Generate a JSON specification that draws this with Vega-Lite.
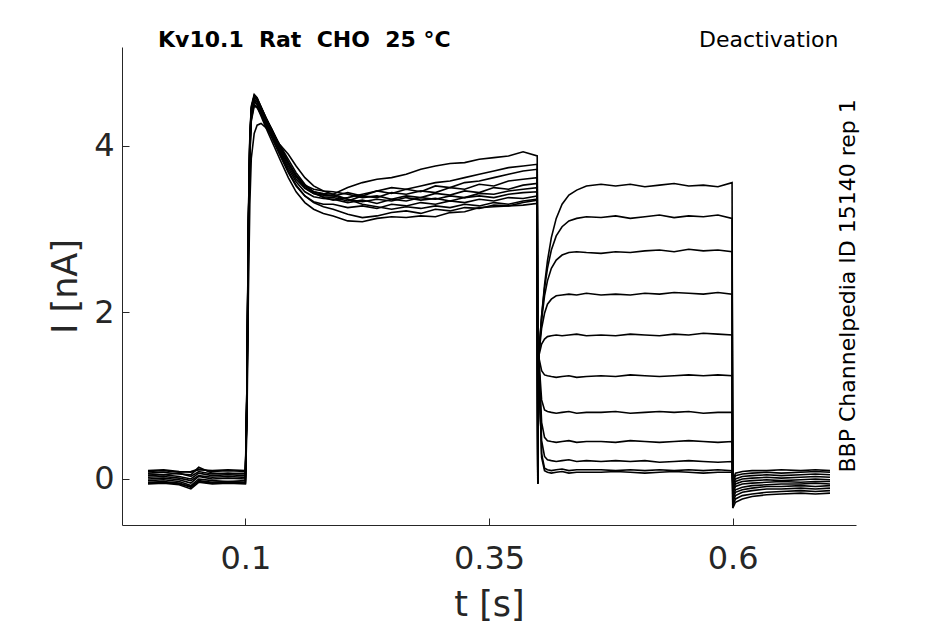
{
"$schema":"https://vega.github.io/schema/vega-lite/v6.json",
"width":734,"height":478,
"autosize":{"type":"none"},
"padding":{"left":122,"top":47,"right":89,"bottom":99},
"background":"white",
"config":{"view":{"stroke":null},"font":"DejaVu Sans"},
"data":{"values":[
{"k":1,"t":0,"v":0.02},{"k":1,"t":0.016,"v":0.03},{"k":1,"t":0.032,"v":0.01},{"k":1,"t":0.044,"v":-0.02},{"k":1,"t":0.052,"v":0.04},{"k":1,"t":0.066,"v":0.02},{"k":1,"t":0.082,"v":0.03},{"k":1,"t":0.1,"v":0.02},
{"k":1,"t":0.1015,"v":0.9},{"k":1,"t":0.103,"v":2.9},{"k":1,"t":0.1045,"v":4.0},{"k":1,"t":0.106,"v":4.4},{"k":1,"t":0.109,"v":4.55},{"k":1,"t":0.112,"v":4.5},{"k":1,"t":0.116,"v":4.4},{"k":1,"t":0.121,"v":4.25},{"k":1,"t":0.127,"v":4.1},{"k":1,"t":0.135,"v":3.9},{"k":1,"t":0.144,"v":3.68},{"k":1,"t":0.152,"v":3.52},{"k":1,"t":0.161,"v":3.4},{"k":1,"t":0.17,"v":3.32},{"k":1,"t":0.18,"v":3.27},
{"k":1,"t":0.19,"v":3.24},{"k":1,"t":0.205,"v":3.18},{"k":1,"t":0.22,"v":3.14},{"k":1,"t":0.235,"v":3.16},{"k":1,"t":0.25,"v":3.2},{"k":1,"t":0.265,"v":3.22},{"k":1,"t":0.28,"v":3.19},{"k":1,"t":0.295,"v":3.24},{"k":1,"t":0.31,"v":3.22},{"k":1,"t":0.325,"v":3.26},{"k":1,"t":0.34,"v":3.25},{"k":1,"t":0.355,"v":3.29},{"k":1,"t":0.37,"v":3.28},{"k":1,"t":0.385,"v":3.32},{"k":1,"t":0.3995,"v":3.35},
{"k":1,"t":0.4001,"v":-0.06},{"k":1,"t":0.401,"v":1.47},{"k":1,"t":0.404,"v":1.96},{"k":1,"t":0.407,"v":2.33},{"k":1,"t":0.41,"v":2.62},{"k":1,"t":0.414,"v":2.9},{"k":1,"t":0.419,"v":3.13},{"k":1,"t":0.425,"v":3.3},{"k":1,"t":0.432,"v":3.41},{"k":1,"t":0.44,"v":3.47},{"k":1,"t":0.45,"v":3.52},
{"k":1,"t":0.465,"v":3.54},{"k":1,"t":0.48,"v":3.52},{"k":1,"t":0.495,"v":3.54},{"k":1,"t":0.51,"v":3.51},{"k":1,"t":0.525,"v":3.53},{"k":1,"t":0.54,"v":3.55},{"k":1,"t":0.555,"v":3.52},{"k":1,"t":0.57,"v":3.53},{"k":1,"t":0.585,"v":3.51},{"k":1,"t":0.5995,"v":3.56},
{"k":1,"t":0.6002,"v":-0.35},{"k":1,"t":0.603,"v":-0.28},{"k":1,"t":0.61,"v":-0.24},{"k":1,"t":0.62,"v":-0.21},{"k":1,"t":0.635,"v":-0.19},{"k":1,"t":0.65,"v":-0.18},{"k":1,"t":0.67,"v":-0.17},{"k":1,"t":0.685,"v":-0.18},{"k":1,"t":0.7,"v":-0.17},
{"k":2,"t":0,"v":0.09},{"k":2,"t":0.016,"v":0.1},{"k":2,"t":0.032,"v":0.08},{"k":2,"t":0.044,"v":0.09},{"k":2,"t":0.052,"v":0.12},{"k":2,"t":0.066,"v":0.09},{"k":2,"t":0.082,"v":0.1},{"k":2,"t":0.1,"v":0.09},
{"k":2,"t":0.1015,"v":1.1},{"k":2,"t":0.103,"v":3.1},{"k":2,"t":0.1045,"v":4.1},{"k":2,"t":0.106,"v":4.48},{"k":2,"t":0.109,"v":4.62},{"k":2,"t":0.112,"v":4.58},{"k":2,"t":0.116,"v":4.47},{"k":2,"t":0.121,"v":4.34},{"k":2,"t":0.127,"v":4.2},{"k":2,"t":0.135,"v":4.0},{"k":2,"t":0.144,"v":3.8},{"k":2,"t":0.152,"v":3.65},{"k":2,"t":0.161,"v":3.52},{"k":2,"t":0.17,"v":3.45},{"k":2,"t":0.18,"v":3.43},
{"k":2,"t":0.19,"v":3.42},{"k":2,"t":0.205,"v":3.5},{"k":2,"t":0.22,"v":3.56},{"k":2,"t":0.235,"v":3.6},{"k":2,"t":0.25,"v":3.62},{"k":2,"t":0.265,"v":3.66},{"k":2,"t":0.28,"v":3.72},{"k":2,"t":0.295,"v":3.76},{"k":2,"t":0.31,"v":3.79},{"k":2,"t":0.325,"v":3.8},{"k":2,"t":0.34,"v":3.84},{"k":2,"t":0.355,"v":3.86},{"k":2,"t":0.37,"v":3.88},{"k":2,"t":0.385,"v":3.93},{"k":2,"t":0.3995,"v":3.88},
{"k":2,"t":0.4001,"v":-0.05},{"k":2,"t":0.401,"v":1.47},{"k":2,"t":0.404,"v":1.95},{"k":2,"t":0.407,"v":2.29},{"k":2,"t":0.41,"v":2.53},{"k":2,"t":0.414,"v":2.75},{"k":2,"t":0.419,"v":2.92},{"k":2,"t":0.425,"v":3.03},{"k":2,"t":0.432,"v":3.1},{"k":2,"t":0.44,"v":3.13},{"k":2,"t":0.45,"v":3.15},
{"k":2,"t":0.465,"v":3.14},{"k":2,"t":0.48,"v":3.16},{"k":2,"t":0.495,"v":3.13},{"k":2,"t":0.51,"v":3.15},{"k":2,"t":0.525,"v":3.17},{"k":2,"t":0.54,"v":3.14},{"k":2,"t":0.555,"v":3.16},{"k":2,"t":0.57,"v":3.15},{"k":2,"t":0.585,"v":3.17},{"k":2,"t":0.5995,"v":3.13},
{"k":2,"t":0.6002,"v":-0.32},{"k":2,"t":0.603,"v":-0.24},{"k":2,"t":0.61,"v":-0.2},{"k":2,"t":0.62,"v":-0.18},{"k":2,"t":0.635,"v":-0.16},{"k":2,"t":0.65,"v":-0.15},{"k":2,"t":0.67,"v":-0.14},{"k":2,"t":0.685,"v":-0.15},{"k":2,"t":0.7,"v":-0.14},
{"k":3,"t":0,"v":-0.04},{"k":3,"t":0.016,"v":-0.03},{"k":3,"t":0.032,"v":-0.05},{"k":3,"t":0.044,"v":-0.1},{"k":3,"t":0.052,"v":-0.02},{"k":3,"t":0.066,"v":-0.04},{"k":3,"t":0.082,"v":-0.03},{"k":3,"t":0.1,"v":-0.04},
{"k":3,"t":0.1015,"v":1.0},{"k":3,"t":0.103,"v":3.0},{"k":3,"t":0.1045,"v":4.05},{"k":3,"t":0.106,"v":4.45},{"k":3,"t":0.109,"v":4.6},{"k":3,"t":0.112,"v":4.56},{"k":3,"t":0.116,"v":4.46},{"k":3,"t":0.121,"v":4.33},{"k":3,"t":0.127,"v":4.19},{"k":3,"t":0.135,"v":3.99},{"k":3,"t":0.144,"v":3.79},{"k":3,"t":0.152,"v":3.64},{"k":3,"t":0.161,"v":3.53},{"k":3,"t":0.17,"v":3.48},{"k":3,"t":0.18,"v":3.46},
{"k":3,"t":0.19,"v":3.45},{"k":3,"t":0.205,"v":3.42},{"k":3,"t":0.22,"v":3.38},{"k":3,"t":0.235,"v":3.4},{"k":3,"t":0.25,"v":3.36},{"k":3,"t":0.265,"v":3.4},{"k":3,"t":0.28,"v":3.38},{"k":3,"t":0.295,"v":3.43},{"k":3,"t":0.31,"v":3.41},{"k":3,"t":0.325,"v":3.46},{"k":3,"t":0.34,"v":3.44},{"k":3,"t":0.355,"v":3.5},{"k":3,"t":0.37,"v":3.48},{"k":3,"t":0.385,"v":3.53},{"k":3,"t":0.3995,"v":3.55},
{"k":3,"t":0.4001,"v":-0.04},{"k":3,"t":0.401,"v":1.47},{"k":3,"t":0.404,"v":1.91},{"k":3,"t":0.407,"v":2.2},{"k":3,"t":0.41,"v":2.38},{"k":3,"t":0.414,"v":2.53},{"k":3,"t":0.419,"v":2.63},{"k":3,"t":0.425,"v":2.69},{"k":3,"t":0.432,"v":2.72},{"k":3,"t":0.44,"v":2.73},{"k":3,"t":0.45,"v":2.72},
{"k":3,"t":0.465,"v":2.71},{"k":3,"t":0.48,"v":2.73},{"k":3,"t":0.495,"v":2.72},{"k":3,"t":0.51,"v":2.74},{"k":3,"t":0.525,"v":2.75},{"k":3,"t":0.54,"v":2.73},{"k":3,"t":0.555,"v":2.76},{"k":3,"t":0.57,"v":2.74},{"k":3,"t":0.585,"v":2.75},{"k":3,"t":0.5995,"v":2.73},
{"k":3,"t":0.6002,"v":-0.28},{"k":3,"t":0.603,"v":-0.2},{"k":3,"t":0.61,"v":-0.16},{"k":3,"t":0.62,"v":-0.14},{"k":3,"t":0.635,"v":-0.12},{"k":3,"t":0.65,"v":-0.12},{"k":3,"t":0.67,"v":-0.11},{"k":3,"t":0.685,"v":-0.12},{"k":3,"t":0.7,"v":-0.11},
{"k":4,"t":0,"v":0.06},{"k":4,"t":0.016,"v":0.05},{"k":4,"t":0.032,"v":0.07},{"k":4,"t":0.044,"v":0.03},{"k":4,"t":0.052,"v":0.09},{"k":4,"t":0.066,"v":0.06},{"k":4,"t":0.082,"v":0.07},{"k":4,"t":0.1,"v":0.06},
{"k":4,"t":0.1015,"v":0.9},{"k":4,"t":0.103,"v":2.8},{"k":4,"t":0.1045,"v":3.9},{"k":4,"t":0.106,"v":4.32},{"k":4,"t":0.109,"v":4.5},{"k":4,"t":0.112,"v":4.47},{"k":4,"t":0.116,"v":4.36},{"k":4,"t":0.121,"v":4.22},{"k":4,"t":0.127,"v":4.06},{"k":4,"t":0.135,"v":3.85},{"k":4,"t":0.144,"v":3.62},{"k":4,"t":0.152,"v":3.45},{"k":4,"t":0.161,"v":3.32},{"k":4,"t":0.17,"v":3.24},{"k":4,"t":0.18,"v":3.19},
{"k":4,"t":0.19,"v":3.16},{"k":4,"t":0.205,"v":3.1},{"k":4,"t":0.22,"v":3.09},{"k":4,"t":0.235,"v":3.13},{"k":4,"t":0.25,"v":3.15},{"k":4,"t":0.265,"v":3.14},{"k":4,"t":0.28,"v":3.16},{"k":4,"t":0.295,"v":3.15},{"k":4,"t":0.31,"v":3.2},{"k":4,"t":0.325,"v":3.21},{"k":4,"t":0.34,"v":3.26},{"k":4,"t":0.355,"v":3.27},{"k":4,"t":0.37,"v":3.28},{"k":4,"t":0.385,"v":3.29},{"k":4,"t":0.3995,"v":3.31},
{"k":4,"t":0.4001,"v":-0.05},{"k":4,"t":0.401,"v":1.47},{"k":4,"t":0.404,"v":1.81},{"k":4,"t":0.407,"v":1.99},{"k":4,"t":0.41,"v":2.1},{"k":4,"t":0.414,"v":2.16},{"k":4,"t":0.419,"v":2.2},{"k":4,"t":0.425,"v":2.21},{"k":4,"t":0.432,"v":2.22},{"k":4,"t":0.44,"v":2.21},{"k":4,"t":0.45,"v":2.23},
{"k":4,"t":0.465,"v":2.21},{"k":4,"t":0.48,"v":2.22},{"k":4,"t":0.495,"v":2.21},{"k":4,"t":0.51,"v":2.23},{"k":4,"t":0.525,"v":2.22},{"k":4,"t":0.54,"v":2.24},{"k":4,"t":0.555,"v":2.23},{"k":4,"t":0.57,"v":2.22},{"k":4,"t":0.585,"v":2.24},{"k":4,"t":0.5995,"v":2.22},
{"k":4,"t":0.6002,"v":-0.25},{"k":4,"t":0.603,"v":-0.16},{"k":4,"t":0.61,"v":-0.13},{"k":4,"t":0.62,"v":-0.11},{"k":4,"t":0.635,"v":-0.09},{"k":4,"t":0.65,"v":-0.09},{"k":4,"t":0.67,"v":-0.08},{"k":4,"t":0.685,"v":-0.09},{"k":4,"t":0.7,"v":-0.08},
{"k":5,"t":0,"v":-0.06},{"k":5,"t":0.016,"v":-0.05},{"k":5,"t":0.032,"v":-0.07},{"k":5,"t":0.044,"v":-0.12},{"k":5,"t":0.052,"v":-0.04},{"k":5,"t":0.066,"v":-0.06},{"k":5,"t":0.082,"v":-0.05},{"k":5,"t":0.1,"v":-0.06},
{"k":5,"t":0.1015,"v":1.1},{"k":5,"t":0.103,"v":3.0},{"k":5,"t":0.1045,"v":4.05},{"k":5,"t":0.106,"v":4.42},{"k":5,"t":0.109,"v":4.58},{"k":5,"t":0.112,"v":4.55},{"k":5,"t":0.116,"v":4.45},{"k":5,"t":0.121,"v":4.33},{"k":5,"t":0.127,"v":4.2},{"k":5,"t":0.135,"v":4.0},{"k":5,"t":0.144,"v":3.8},{"k":5,"t":0.152,"v":3.64},{"k":5,"t":0.161,"v":3.52},{"k":5,"t":0.17,"v":3.45},{"k":5,"t":0.18,"v":3.42},
{"k":5,"t":0.19,"v":3.4},{"k":5,"t":0.205,"v":3.44},{"k":5,"t":0.22,"v":3.4},{"k":5,"t":0.235,"v":3.46},{"k":5,"t":0.25,"v":3.43},{"k":5,"t":0.265,"v":3.48},{"k":5,"t":0.28,"v":3.45},{"k":5,"t":0.295,"v":3.52},{"k":5,"t":0.31,"v":3.5},{"k":5,"t":0.325,"v":3.56},{"k":5,"t":0.34,"v":3.58},{"k":5,"t":0.355,"v":3.62},{"k":5,"t":0.37,"v":3.66},{"k":5,"t":0.385,"v":3.7},{"k":5,"t":0.3995,"v":3.72},
{"k":5,"t":0.4001,"v":-0.05},{"k":5,"t":0.401,"v":1.47},{"k":5,"t":0.404,"v":1.62},{"k":5,"t":0.407,"v":1.68},{"k":5,"t":0.41,"v":1.71},{"k":5,"t":0.414,"v":1.72},{"k":5,"t":0.419,"v":1.73},{"k":5,"t":0.425,"v":1.72},{"k":5,"t":0.432,"v":1.73},{"k":5,"t":0.44,"v":1.74},{"k":5,"t":0.45,"v":1.72},
{"k":5,"t":0.465,"v":1.73},{"k":5,"t":0.48,"v":1.72},{"k":5,"t":0.495,"v":1.74},{"k":5,"t":0.51,"v":1.73},{"k":5,"t":0.525,"v":1.72},{"k":5,"t":0.54,"v":1.74},{"k":5,"t":0.555,"v":1.73},{"k":5,"t":0.57,"v":1.75},{"k":5,"t":0.585,"v":1.74},{"k":5,"t":0.5995,"v":1.73},
{"k":5,"t":0.6002,"v":-0.22},{"k":5,"t":0.603,"v":-0.13},{"k":5,"t":0.61,"v":-0.1},{"k":5,"t":0.62,"v":-0.08},{"k":5,"t":0.635,"v":-0.07},{"k":5,"t":0.65,"v":-0.06},{"k":5,"t":0.67,"v":-0.06},{"k":5,"t":0.685,"v":-0.05},{"k":5,"t":0.7,"v":-0.06},
{"k":6,"t":0,"v":0.04},{"k":6,"t":0.016,"v":0.05},{"k":6,"t":0.032,"v":0.03},{"k":6,"t":0.044,"v":0.0},{"k":6,"t":0.052,"v":0.07},{"k":6,"t":0.066,"v":0.04},{"k":6,"t":0.082,"v":0.05},{"k":6,"t":0.1,"v":0.04},
{"k":6,"t":0.1015,"v":1.0},{"k":6,"t":0.103,"v":3.0},{"k":6,"t":0.1045,"v":4.0},{"k":6,"t":0.106,"v":4.4},{"k":6,"t":0.109,"v":4.56},{"k":6,"t":0.112,"v":4.53},{"k":6,"t":0.116,"v":4.43},{"k":6,"t":0.121,"v":4.3},{"k":6,"t":0.127,"v":4.16},{"k":6,"t":0.135,"v":3.96},{"k":6,"t":0.144,"v":3.76},{"k":6,"t":0.152,"v":3.6},{"k":6,"t":0.161,"v":3.49},{"k":6,"t":0.17,"v":3.43},{"k":6,"t":0.18,"v":3.41},
{"k":6,"t":0.19,"v":3.4},{"k":6,"t":0.205,"v":3.36},{"k":6,"t":0.22,"v":3.33},{"k":6,"t":0.235,"v":3.36},{"k":6,"t":0.25,"v":3.34},{"k":6,"t":0.265,"v":3.38},{"k":6,"t":0.28,"v":3.35},{"k":6,"t":0.295,"v":3.37},{"k":6,"t":0.31,"v":3.34},{"k":6,"t":0.325,"v":3.38},{"k":6,"t":0.34,"v":3.4},{"k":6,"t":0.355,"v":3.38},{"k":6,"t":0.37,"v":3.42},{"k":6,"t":0.385,"v":3.44},{"k":6,"t":0.3995,"v":3.45},
{"k":6,"t":0.4001,"v":-0.05},{"k":6,"t":0.401,"v":1.47},{"k":6,"t":0.404,"v":1.3},{"k":6,"t":0.407,"v":1.25},{"k":6,"t":0.41,"v":1.24},{"k":6,"t":0.414,"v":1.23},{"k":6,"t":0.419,"v":1.22},{"k":6,"t":0.425,"v":1.23},{"k":6,"t":0.432,"v":1.24},{"k":6,"t":0.44,"v":1.22},{"k":6,"t":0.45,"v":1.23},
{"k":6,"t":0.465,"v":1.24},{"k":6,"t":0.48,"v":1.23},{"k":6,"t":0.495,"v":1.25},{"k":6,"t":0.51,"v":1.24},{"k":6,"t":0.525,"v":1.23},{"k":6,"t":0.54,"v":1.24},{"k":6,"t":0.555,"v":1.25},{"k":6,"t":0.57,"v":1.24},{"k":6,"t":0.585,"v":1.25},{"k":6,"t":0.5995,"v":1.24},
{"k":6,"t":0.6002,"v":-0.18},{"k":6,"t":0.603,"v":-0.09},{"k":6,"t":0.61,"v":-0.06},{"k":6,"t":0.62,"v":-0.05},{"k":6,"t":0.635,"v":-0.04},{"k":6,"t":0.65,"v":-0.03},{"k":6,"t":0.67,"v":-0.04},{"k":6,"t":0.685,"v":-0.03},{"k":6,"t":0.7,"v":-0.03},
{"k":7,"t":0,"v":-0.02},{"k":7,"t":0.016,"v":-0.01},{"k":7,"t":0.032,"v":-0.03},{"k":7,"t":0.044,"v":-0.08},{"k":7,"t":0.052,"v":0.0},{"k":7,"t":0.066,"v":-0.02},{"k":7,"t":0.082,"v":-0.03},{"k":7,"t":0.1,"v":-0.02},
{"k":7,"t":0.1015,"v":0.6},{"k":7,"t":0.103,"v":2.2},{"k":7,"t":0.1045,"v":3.3},{"k":7,"t":0.106,"v":3.85},{"k":7,"t":0.109,"v":4.15},{"k":7,"t":0.112,"v":4.25},{"k":7,"t":0.116,"v":4.27},{"k":7,"t":0.121,"v":4.22},{"k":7,"t":0.127,"v":4.14},{"k":7,"t":0.135,"v":4.02},{"k":7,"t":0.144,"v":3.9},{"k":7,"t":0.152,"v":3.76},{"k":7,"t":0.161,"v":3.62},{"k":7,"t":0.17,"v":3.52},{"k":7,"t":0.18,"v":3.46},
{"k":7,"t":0.19,"v":3.42},{"k":7,"t":0.205,"v":3.36},{"k":7,"t":0.22,"v":3.3},{"k":7,"t":0.235,"v":3.27},{"k":7,"t":0.25,"v":3.24},{"k":7,"t":0.265,"v":3.27},{"k":7,"t":0.28,"v":3.25},{"k":7,"t":0.295,"v":3.28},{"k":7,"t":0.31,"v":3.26},{"k":7,"t":0.325,"v":3.3},{"k":7,"t":0.34,"v":3.28},{"k":7,"t":0.355,"v":3.32},{"k":7,"t":0.37,"v":3.3},{"k":7,"t":0.385,"v":3.34},{"k":7,"t":0.3995,"v":3.36},
{"k":7,"t":0.4001,"v":-0.05},{"k":7,"t":0.401,"v":1.47},{"k":7,"t":0.404,"v":0.95},{"k":7,"t":0.407,"v":0.83},{"k":7,"t":0.41,"v":0.81},{"k":7,"t":0.414,"v":0.8},{"k":7,"t":0.419,"v":0.79},{"k":7,"t":0.425,"v":0.8},{"k":7,"t":0.432,"v":0.81},{"k":7,"t":0.44,"v":0.79},{"k":7,"t":0.45,"v":0.8},
{"k":7,"t":0.465,"v":0.8},{"k":7,"t":0.48,"v":0.81},{"k":7,"t":0.495,"v":0.79},{"k":7,"t":0.51,"v":0.8},{"k":7,"t":0.525,"v":0.81},{"k":7,"t":0.54,"v":0.8},{"k":7,"t":0.555,"v":0.81},{"k":7,"t":0.57,"v":0.79},{"k":7,"t":0.585,"v":0.8},{"k":7,"t":0.5995,"v":0.8},
{"k":7,"t":0.6002,"v":-0.15},{"k":7,"t":0.603,"v":-0.06},{"k":7,"t":0.61,"v":-0.03},{"k":7,"t":0.62,"v":-0.02},{"k":7,"t":0.635,"v":-0.01},{"k":7,"t":0.65,"v":-0.02},{"k":7,"t":0.67,"v":-0.01},{"k":7,"t":0.685,"v":0.0},{"k":7,"t":0.7,"v":-0.01},
{"k":8,"t":0,"v":0.07},{"k":8,"t":0.016,"v":0.08},{"k":8,"t":0.032,"v":0.06},{"k":8,"t":0.044,"v":0.05},{"k":8,"t":0.052,"v":0.14},{"k":8,"t":0.066,"v":0.07},{"k":8,"t":0.082,"v":0.06},{"k":8,"t":0.1,"v":0.07},
{"k":8,"t":0.1015,"v":1.0},{"k":8,"t":0.103,"v":3.0},{"k":8,"t":0.1045,"v":4.05},{"k":8,"t":0.106,"v":4.43},{"k":8,"t":0.109,"v":4.6},{"k":8,"t":0.112,"v":4.57},{"k":8,"t":0.116,"v":4.47},{"k":8,"t":0.121,"v":4.34},{"k":8,"t":0.127,"v":4.2},{"k":8,"t":0.135,"v":4.0},{"k":8,"t":0.144,"v":3.8},{"k":8,"t":0.152,"v":3.63},{"k":8,"t":0.161,"v":3.5},{"k":8,"t":0.17,"v":3.43},{"k":8,"t":0.18,"v":3.39},
{"k":8,"t":0.19,"v":3.38},{"k":8,"t":0.205,"v":3.34},{"k":8,"t":0.22,"v":3.4},{"k":8,"t":0.235,"v":3.38},{"k":8,"t":0.25,"v":3.44},{"k":8,"t":0.265,"v":3.42},{"k":8,"t":0.28,"v":3.46},{"k":8,"t":0.295,"v":3.44},{"k":8,"t":0.31,"v":3.5},{"k":8,"t":0.325,"v":3.48},{"k":8,"t":0.34,"v":3.54},{"k":8,"t":0.355,"v":3.52},{"k":8,"t":0.37,"v":3.58},{"k":8,"t":0.385,"v":3.6},{"k":8,"t":0.3995,"v":3.62},
{"k":8,"t":0.4001,"v":-0.05},{"k":8,"t":0.401,"v":1.47},{"k":8,"t":0.404,"v":0.68},{"k":8,"t":0.407,"v":0.5},{"k":8,"t":0.41,"v":0.46},{"k":8,"t":0.414,"v":0.45},{"k":8,"t":0.419,"v":0.44},{"k":8,"t":0.425,"v":0.45},{"k":8,"t":0.432,"v":0.46},{"k":8,"t":0.44,"v":0.44},{"k":8,"t":0.45,"v":0.45},
{"k":8,"t":0.465,"v":0.45},{"k":8,"t":0.48,"v":0.44},{"k":8,"t":0.495,"v":0.46},{"k":8,"t":0.51,"v":0.45},{"k":8,"t":0.525,"v":0.44},{"k":8,"t":0.54,"v":0.45},{"k":8,"t":0.555,"v":0.46},{"k":8,"t":0.57,"v":0.45},{"k":8,"t":0.585,"v":0.44},{"k":8,"t":0.5995,"v":0.45},
{"k":8,"t":0.6002,"v":-0.12},{"k":8,"t":0.603,"v":-0.03},{"k":8,"t":0.61,"v":0.0},{"k":8,"t":0.62,"v":0.01},{"k":8,"t":0.635,"v":0.02},{"k":8,"t":0.65,"v":0.01},{"k":8,"t":0.67,"v":0.02},{"k":8,"t":0.685,"v":0.03},{"k":8,"t":0.7,"v":0.02},
{"k":9,"t":0,"v":0.0},{"k":9,"t":0.016,"v":0.01},{"k":9,"t":0.032,"v":-0.01},{"k":9,"t":0.044,"v":-0.05},{"k":9,"t":0.052,"v":0.03},{"k":9,"t":0.066,"v":0.0},{"k":9,"t":0.082,"v":0.01},{"k":9,"t":0.1,"v":0.0},
{"k":9,"t":0.1015,"v":0.9},{"k":9,"t":0.103,"v":2.9},{"k":9,"t":0.1045,"v":3.95},{"k":9,"t":0.106,"v":4.35},{"k":9,"t":0.109,"v":4.53},{"k":9,"t":0.112,"v":4.5},{"k":9,"t":0.116,"v":4.4},{"k":9,"t":0.121,"v":4.28},{"k":9,"t":0.127,"v":4.14},{"k":9,"t":0.135,"v":3.94},{"k":9,"t":0.144,"v":3.73},{"k":9,"t":0.152,"v":3.57},{"k":9,"t":0.161,"v":3.45},{"k":9,"t":0.17,"v":3.39},{"k":9,"t":0.18,"v":3.37},
{"k":9,"t":0.19,"v":3.36},{"k":9,"t":0.205,"v":3.32},{"k":9,"t":0.22,"v":3.35},{"k":9,"t":0.235,"v":3.31},{"k":9,"t":0.25,"v":3.36},{"k":9,"t":0.265,"v":3.34},{"k":9,"t":0.28,"v":3.38},{"k":9,"t":0.295,"v":3.36},{"k":9,"t":0.31,"v":3.4},{"k":9,"t":0.325,"v":3.38},{"k":9,"t":0.34,"v":3.43},{"k":9,"t":0.355,"v":3.42},{"k":9,"t":0.37,"v":3.46},{"k":9,"t":0.385,"v":3.48},{"k":9,"t":0.3995,"v":3.5},
{"k":9,"t":0.4001,"v":-0.05},{"k":9,"t":0.401,"v":1.47},{"k":9,"t":0.404,"v":0.46},{"k":9,"t":0.407,"v":0.27},{"k":9,"t":0.41,"v":0.23},{"k":9,"t":0.414,"v":0.22},{"k":9,"t":0.419,"v":0.21},{"k":9,"t":0.425,"v":0.22},{"k":9,"t":0.432,"v":0.23},{"k":9,"t":0.44,"v":0.21},{"k":9,"t":0.45,"v":0.22},
{"k":9,"t":0.465,"v":0.21},{"k":9,"t":0.48,"v":0.22},{"k":9,"t":0.495,"v":0.21},{"k":9,"t":0.51,"v":0.22},{"k":9,"t":0.525,"v":0.2},{"k":9,"t":0.54,"v":0.21},{"k":9,"t":0.555,"v":0.22},{"k":9,"t":0.57,"v":0.21},{"k":9,"t":0.585,"v":0.2},{"k":9,"t":0.5995,"v":0.21},
{"k":9,"t":0.6002,"v":-0.08},{"k":9,"t":0.603,"v":0.0},{"k":9,"t":0.61,"v":0.03},{"k":9,"t":0.62,"v":0.04},{"k":9,"t":0.635,"v":0.05},{"k":9,"t":0.65,"v":0.04},{"k":9,"t":0.67,"v":0.05},{"k":9,"t":0.685,"v":0.06},{"k":9,"t":0.7,"v":0.05},
{"k":10,"t":0,"v":-0.05},{"k":10,"t":0.016,"v":-0.04},{"k":10,"t":0.032,"v":-0.06},{"k":10,"t":0.044,"v":-0.09},{"k":10,"t":0.052,"v":-0.03},{"k":10,"t":0.066,"v":-0.05},{"k":10,"t":0.082,"v":-0.04},{"k":10,"t":0.1,"v":-0.05},
{"k":10,"t":0.1015,"v":1.1},{"k":10,"t":0.103,"v":3.1},{"k":10,"t":0.1045,"v":4.1},{"k":10,"t":0.106,"v":4.46},{"k":10,"t":0.109,"v":4.6},{"k":10,"t":0.112,"v":4.56},{"k":10,"t":0.116,"v":4.46},{"k":10,"t":0.121,"v":4.33},{"k":10,"t":0.127,"v":4.2},{"k":10,"t":0.135,"v":4.02},{"k":10,"t":0.144,"v":3.84},{"k":10,"t":0.152,"v":3.68},{"k":10,"t":0.161,"v":3.54},{"k":10,"t":0.17,"v":3.44},{"k":10,"t":0.18,"v":3.38},
{"k":10,"t":0.19,"v":3.35},{"k":10,"t":0.205,"v":3.38},{"k":10,"t":0.22,"v":3.42},{"k":10,"t":0.235,"v":3.46},{"k":10,"t":0.25,"v":3.5},{"k":10,"t":0.265,"v":3.48},{"k":10,"t":0.28,"v":3.52},{"k":10,"t":0.295,"v":3.56},{"k":10,"t":0.31,"v":3.58},{"k":10,"t":0.325,"v":3.62},{"k":10,"t":0.34,"v":3.66},{"k":10,"t":0.355,"v":3.7},{"k":10,"t":0.37,"v":3.74},{"k":10,"t":0.385,"v":3.76},{"k":10,"t":0.3995,"v":3.78},
{"k":10,"t":0.4001,"v":-0.05},{"k":10,"t":0.401,"v":1.47},{"k":10,"t":0.404,"v":0.3},{"k":10,"t":0.407,"v":0.13},{"k":10,"t":0.41,"v":0.11},{"k":10,"t":0.414,"v":0.1},{"k":10,"t":0.419,"v":0.11},{"k":10,"t":0.425,"v":0.12},{"k":10,"t":0.432,"v":0.1},{"k":10,"t":0.44,"v":0.11},{"k":10,"t":0.45,"v":0.11},
{"k":10,"t":0.465,"v":0.11},{"k":10,"t":0.48,"v":0.1},{"k":10,"t":0.495,"v":0.11},{"k":10,"t":0.51,"v":0.1},{"k":10,"t":0.525,"v":0.11},{"k":10,"t":0.54,"v":0.1},{"k":10,"t":0.555,"v":0.11},{"k":10,"t":0.57,"v":0.1},{"k":10,"t":0.585,"v":0.11},{"k":10,"t":0.5995,"v":0.1},
{"k":10,"t":0.6002,"v":-0.05},{"k":10,"t":0.603,"v":0.04},{"k":10,"t":0.61,"v":0.06},{"k":10,"t":0.62,"v":0.07},{"k":10,"t":0.635,"v":0.08},{"k":10,"t":0.65,"v":0.07},{"k":10,"t":0.67,"v":0.08},{"k":10,"t":0.685,"v":0.09},{"k":10,"t":0.7,"v":0.08},
{"k":11,"t":0,"v":0.1},{"k":11,"t":0.016,"v":0.11},{"k":11,"t":0.032,"v":0.09},{"k":11,"t":0.044,"v":0.08},{"k":11,"t":0.052,"v":0.11},{"k":11,"t":0.066,"v":0.1},{"k":11,"t":0.082,"v":0.11},{"k":11,"t":0.1,"v":0.1},
{"k":11,"t":0.1015,"v":0.8},{"k":11,"t":0.103,"v":2.7},{"k":11,"t":0.1045,"v":3.85},{"k":11,"t":0.106,"v":4.3},{"k":11,"t":0.109,"v":4.48},{"k":11,"t":0.112,"v":4.46},{"k":11,"t":0.116,"v":4.38},{"k":11,"t":0.121,"v":4.26},{"k":11,"t":0.127,"v":4.12},{"k":11,"t":0.135,"v":3.92},{"k":11,"t":0.144,"v":3.7},{"k":11,"t":0.152,"v":3.53},{"k":11,"t":0.161,"v":3.4},{"k":11,"t":0.17,"v":3.33},{"k":11,"t":0.18,"v":3.3},
{"k":11,"t":0.19,"v":3.3},{"k":11,"t":0.205,"v":3.26},{"k":11,"t":0.22,"v":3.28},{"k":11,"t":0.235,"v":3.25},{"k":11,"t":0.25,"v":3.3},{"k":11,"t":0.265,"v":3.28},{"k":11,"t":0.28,"v":3.32},{"k":11,"t":0.295,"v":3.3},{"k":11,"t":0.31,"v":3.34},{"k":11,"t":0.325,"v":3.32},{"k":11,"t":0.34,"v":3.36},{"k":11,"t":0.355,"v":3.34},{"k":11,"t":0.37,"v":3.38},{"k":11,"t":0.385,"v":3.37},{"k":11,"t":0.3995,"v":3.4},
{"k":11,"t":0.4001,"v":-0.05},{"k":11,"t":0.401,"v":1.47},{"k":11,"t":0.404,"v":0.26},{"k":11,"t":0.407,"v":0.1},{"k":11,"t":0.41,"v":0.08},{"k":11,"t":0.414,"v":0.07},{"k":11,"t":0.419,"v":0.08},{"k":11,"t":0.425,"v":0.09},{"k":11,"t":0.432,"v":0.07},{"k":11,"t":0.44,"v":0.08},{"k":11,"t":0.45,"v":0.08},
{"k":11,"t":0.465,"v":0.08},{"k":11,"t":0.48,"v":0.09},{"k":11,"t":0.495,"v":0.08},{"k":11,"t":0.51,"v":0.07},{"k":11,"t":0.525,"v":0.08},{"k":11,"t":0.54,"v":0.09},{"k":11,"t":0.555,"v":0.08},{"k":11,"t":0.57,"v":0.07},{"k":11,"t":0.585,"v":0.08},{"k":11,"t":0.5995,"v":0.08},
{"k":11,"t":0.6002,"v":-0.02},{"k":11,"t":0.603,"v":0.07},{"k":11,"t":0.61,"v":0.09},{"k":11,"t":0.62,"v":0.1},{"k":11,"t":0.635,"v":0.1},{"k":11,"t":0.65,"v":0.11},{"k":11,"t":0.67,"v":0.1},{"k":11,"t":0.685,"v":0.11},{"k":11,"t":0.7,"v":0.1}
]},
"layer":[
{"mark":{"type":"line","color":"black","strokeWidth":1.6},
 "encoding":{
  "x":{"field":"t","type":"quantitative","title":"t [s]","scale":{"domain":[-0.0267,0.7267],"nice":false,"zero":false},
   "axis":{"values":[0.1,0.35,0.6],"format":"~g","title":"t [s]","grid":false,"tickSize":-7,"labelPadding":25,"labelFontSize":32,"labelColor":"#262626","domainColor":"#262626","tickColor":"#262626","titleFontSize":35,"titleFontWeight":"normal","titleColor":"#262626","titlePadding":13,"labelFont":"DejaVu Sans","titleFont":"DejaVu Sans"}},
  "y":{"field":"v","type":"quantitative","title":"I [nA]","scale":{"domain":[-0.553,5.189],"nice":false,"zero":false},
   "axis":{"values":[0,2,4],"format":"d","title":"I [nA]","grid":false,"tickSize":-7,"labelPadding":15,"labelFontSize":32,"labelColor":"#262626","domainColor":"#262626","tickColor":"#262626","titleFontSize":35,"titleFontWeight":"normal","titleColor":"#262626","titlePadding":10,"labelFont":"DejaVu Sans","titleFont":"DejaVu Sans"}},
  "detail":{"field":"k","type":"nominal"}}},
{"data":{"values":[{"n":1}]},
 "mark":{"type":"text","align":"left","baseline":"alphabetic","fontSize":22,"fontWeight":"bold","color":"black","font":"DejaVu Sans"},
 "encoding":{"x":{"datum":0.0103,"type":"quantitative","title":"t [s]"},"y":{"datum":5.195,"type":"quantitative","title":"I [nA]"},"text":{"value":"Kv10.1\u00a0 Rat\u00a0 CHO\u00a0 25 °C"}}},
{"data":{"values":[{"n":1}]},
 "mark":{"type":"text","align":"right","baseline":"alphabetic","fontSize":22,"color":"black","font":"DejaVu Sans"},
 "encoding":{"x":{"datum":0.7087,"type":"quantitative","title":"t [s]"},"y":{"datum":5.195,"type":"quantitative","title":"I [nA]"},"text":{"value":"Deactivation"}}},
{"data":{"values":[{"n":1}]},
 "mark":{"type":"text","align":"center","baseline":"middle","angle":270,"fontSize":22,"color":"black","font":"DejaVu Sans"},
 "encoding":{"x":{"datum":0.7189,"type":"quantitative","title":"t [s]"},"y":{"datum":2.32,"type":"quantitative","title":"I [nA]"},"text":{"value":"BBP Channelpedia ID 15140 rep 1"}}}
]
}
